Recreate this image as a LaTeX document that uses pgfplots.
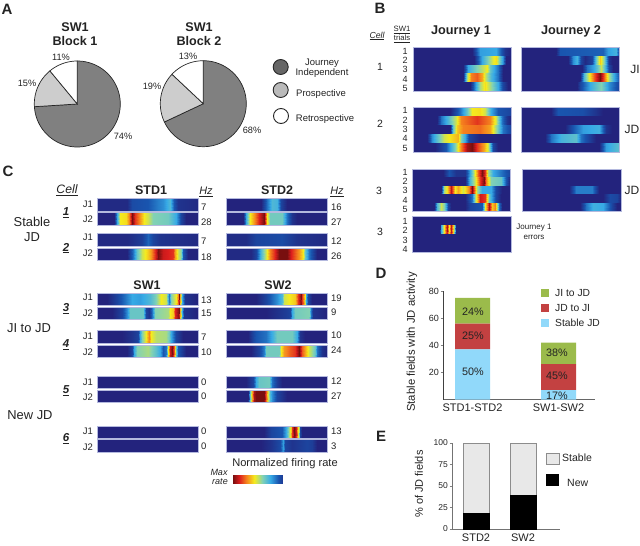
\documentclass[border=0pt]{standalone}
\usepackage{fontspec}
\setmainfont{Liberation Sans}
\usepackage{pgfplots}
\pgfplotsset{compat=1.18}

\definecolor{piedark}{RGB}{128,128,128}
\definecolor{pielight}{RGB}{205,205,205}
\definecolor{txt}{RGB}{35,35,35}
\definecolor{stripframe}{RGB}{180,185,222}
\definecolor{barblue}{RGB}{145,217,250}
\definecolor{barred}{RGB}{195,65,65}
\definecolor{bargreen}{RGB}{155,187,75}
\definecolor{stablegray}{RGB}{232,232,232}

\pgfplotsset{
  colormap={firing}{rgb255(0pt)=(35,35,125); rgb255(15pt)=(25,85,175); rgb255(30pt)=(55,170,230);
    rgb255(45pt)=(130,210,180); rgb255(60pt)=(245,235,30); rgb255(75pt)=(245,130,30);
    rgb255(88pt)=(220,30,30); rgb255(100pt)=(120,15,15)},
}

% one band of a heat strip: x0, x1, ytop, ybottom, position%/value list
\newcommand\band[5]{%
  \gdef\pts{}%
  \foreach \p/\v in {#5}{%
    \pgfmathsetmacro\xx{#1+(#2-#1)*\p/100}%
    \xdef\pts{\pts (\xx,#3) [\v] (\xx,#4) [\v]}%
  }%
  \edef\temp{\noexpand\addplot[surf,shader=interp,point meta=explicit,mesh/rows=2,mesh/ordering=y varies] coordinates {\pts};}%
  \temp
}
\newcommand\frm[4]{\draw[stripframe,line width=.6pt] (axis cs:#1,#3) rectangle (axis cs:#2,#4);}
\newcommand\strip[5]{\band{#1}{#2}{#3}{#4}{#5}\frm{#1}{#2}{#3}{#4}}

% pie slice from percent a to percent b, clockwise from the top
\newcommand\slice[3]{%
  \gdef\pts{(0,0)}%
  \foreach \p in {#1,...,#2}{%
    \pgfmathsetmacro\ang{90-3.6*\p}%
    \xdef\pts{\pts (\ang,1)}%
  }%
  \edef\temp{\noexpand\addplot[data cs=polar,fill=#3,draw=black!85,line width=.7pt] coordinates {\pts} -- cycle;}%
  \temp
}
\pgfplotsset{pie/.style={scale only axis,width=86pt,height=86pt,xmin=-1,xmax=1,ymin=-1,ymax=1,hide axis,clip=false,anchor=center}}

\newcommand\tx[4][center]{\node[anchor=#1,inner sep=0pt,text=txt,align=center,font=\fontsize{#3}{#3}\selectfont] at (#2) {#4};}
\newcommand\xy[2]{#1pt,-#2pt}

\begin{document}
\begin{tikzpicture}
\useasboundingbox (0,0) rectangle (640pt,-546pt);

% heat strips, in picture pixels
\begin{axis}[at={(0,0)},anchor=north west,scale only axis,width=640pt,height=546pt,
  xmin=0,xmax=640,ymin=0,ymax=546,y dir=reverse,hide axis,
  colormap name=firing,point meta min=0,point meta max=1]

% B, cell 1
\band{413}{511}{47}{55.8}{0/0,60/0,68/.28,85/.3,94/.05,100/0}
\band{413}{511}{55.8}{64.6}{0/0,62/0,70/.3,76/.42,82/.58,85/.62,88/.45,92/.25,95/0,100/0}
\band{413}{511}{64.6}{73.4}{0/0,51/0,56/.3,65/.45,72/.55,75/.6,79/.4,87/.2,92/0,100/0}
\band{413}{511}{73.4}{82.2}{0/0,51/0,55/.5,59/.75,65/.8,70/.7,73/.55,80/.35,87/.2,92/0,100/0}
\band{413}{511}{82.2}{91}{0/0,58/0,62/.2,68/.5,73/.62,79/.5,87/.3,92/.1,97/0,100/0}
\frm{413}{511}{47}{91}
\band{521}{619}{47}{55.8}{0/0,36/0,40/.15,84/.17,89/.28,97/.33,100/.1}
\band{521}{619}{55.8}{64.6}{0/0,48/0,53/.25,57/.33,61/.1,65/.02,72/.1,77/.4,81/.65,85/.45,90/.05,93/0,100/0}
\band{521}{619}{64.6}{73.4}{0/0,62/0,67/.2,74/.3,79/.42,82/.55,85/.4,90/.1,94/0,100/0}
\band{521}{619}{73.4}{82.2}{0/0,60/0,64/.35,69/.58,74/.8,81/1,85/.8,90/.5,95/.3,100/.15}
\band{521}{619}{82.2}{91}{0/0,57/0,60/.1,70/.3,82/.45,90/.25,100/.1}
\frm{521}{619}{47}{91}

% B, cell 2
\band{413}{511}{107}{116}{0/0,38/0,48/.2,55/.4,60/.6,68/.62,73/.55,80/.3,87/.15,100/.1}
\band{413}{511}{116}{125}{0/0,24/0,29/.2,36/.35,44/.55,49/.75,65/.85,79/.75,85/.55,91/.2,96/.05,100/0}
\band{413}{511}{125}{134}{0/0,38/0,41/.4,45/.65,51/.75,68/.78,79/.7,86/.45,92/.2,100/.1}
\band{413}{511}{134}{143}{0/0,14/0,19/.25,26/.4,32/.55,39/.62,46/.68,49/.45,53/.3,57/.1,68/0,100/0}
\band{413}{511}{143}{152}{0/0,22/0,34/.15,43/.45,49/.75,55/.95,60/1,65/.85,72/.7,77/.55,82/.1,87/0,100/0}
\frm{413}{511}{107}{152}
\band{521}{619}{107}{116}{0/0,31/0,38/.15,63/.13,77/.05,84/0,100/0}
\band{521}{619}{116}{125}{0/0,100/0}
\band{521}{619}{125}{134}{0/0,45/0,53/.15,63/.28,80/.32,87/.05,93/0,100/0}
\band{521}{619}{134}{143}{0/0,24/0,31/.2,41/.33,56/.38,61/.2,70/.08,77/0,100/0}
\band{521}{619}{143}{152}{0/0,80/0,87/.28,100/.38}
\frm{521}{619}{107}{152}

% B, cell 3
\band{412}{510}{169}{177.4}{0/0,32/0,38/.15,45/.05,54/.05,59/.3,64/.6,67/.8,71/1,74/.85,78/.5,83/.3,93/.18,100/.1}
\band{412}{510}{177.4}{185.8}{0/0,54/0,59/.35,64/.55,69/.85,73/1,76/.75,81/.45,91/.4,96/.15,100/0}
\band{412}{510}{185.8}{194.2}{0/0,30/0,33/.5,36/.62,40/.92,44/.6,47/.7,52/.55,58/.75,61/1,66/.5,71/.3,81/.3,86/.1,92/0,100/0}
\band{412}{510}{194.2}{202.6}{0/0,54/0,61/.2,64/.5,69/.9,74/.85,79/.4,86/.1,91/0,100/0}
\band{412}{510}{202.6}{211}{0/0,22/0,25/.35,30/.55,33/.45,37/.1,40/0,54/0,59/.1,71/.15,74/.6,79/.95,82/.65,85/.75,89/.2,92/0,100/0}
\frm{412}{510}{169}{211}
\band{522}{621}{169}{185.8}{0/0,100/0}
\band{522}{621}{185.8}{194.2}{0/0,47/0,55/.22,71/.22,78/0,100/0}
\band{522}{621}{194.2}{202.6}{0/0,82/0,89/.12,96/.1,100/0}
\band{522}{621}{202.6}{211}{0/0,59/0,65/.2,72/.32,82/.3,91/.1,96/0,100/0}
\frm{522}{621}{169}{211}

% B, errors
\band{412}{511}{216}{225}{0/0,100/0}
\band{412}{511}{225}{234}{0/0,28/0,29.5/.3,32/.6,35/.95,37/.6,39.5/.92,42/.5,44.5/0,100/0}
\band{412}{511}{234}{252}{0/0,100/0}
\frm{412}{511}{216}{252}

% C, STD1 and STD2
\strip{97}{198}{198}{211}{0/.02,30/.02,35/.12,50/.15,60/.22,65/.25,72/.35,76/.15,80/.05,100/.02}
\strip{97}{198}{212.5}{225}{0/0,17/0,20/.3,23/.6,29/.62,32/.75,35/1,38/.85,42/.75,47/.6,50/.55,55/.45,70/.42,78/.3,83/.1,88/0,100/0}
\strip{226}{327}{198}{211}{0/0,35/0,41/.2,46/.35,50/.33,54/.1,60/0,100/0}
\strip{226}{327}{212.5}{225}{0/0,17/0,20/.3,24/.6,28/.72,33/.88,38/1,41/.6,44/.42,55/.42,60/.2,65/.05,70/0,100/0}
\strip{97}{198}{233}{246}{0/.02,30/.02,45/.08,50/.18,55/.1,62/.05,100/.02}
\strip{97}{198}{248}{260}{0/0,30/0,33/.1,36/.2,40/.4,45/.55,50/.65,53/.72,58/.9,60/1,65/.9,70/.88,75/.85,77/.7,80/.55,83/.45,85/.15,90/0,100/0}
\strip{226}{327}{233}{246}{0/.03,20/.03,30/.1,55/.12,70/.05,100/.02}
\strip{226}{327}{248}{260}{0/.02,25/.02,30/.1,35/.35,40/.55,44/.75,48/.85,52/1,60/1,64/.88,72/.72,76/.6,78/.4,82/.2,90/0,100/0}

% C, SW1 and SW2
\strip{97}{198}{293}{305}{0/0,10/0,20/.1,28/.2,35/.3,43/.28,52/.35,58/.45,63/.6,68/.55,71/.2,73/.45,78/.6,80/.75,81/1,82/.7,84/.3,87/.05,100/0}
\strip{97}{198}{307}{319}{0/0,15/0,25/.1,30/.25,33/.4,46/.4,49/.1,51/.05,54/.2,57/.45,70/.5,72/.6,75/.65,77/.88,81/1,82/.7,84/.3,86/.05,100/0}
\strip{226}{327}{293}{305}{0/0,30/0,40/.1,50/.25,55/.35,57/.55,62/.6,68/.65,71/.85,74/1,75/.85,78/.6,79/.3,81/.1,85/0,100/0}
\strip{226}{327}{307}{319}{0/0,40/0,60/.08,63/.1,65/.3,68/.42,82/.45,84/.2,86/.05,100/0}
\strip{97}{198}{330}{343}{0/0,25/0,35/.05,41/.1,43/.3,45/.45,49/.6,51/.75,53/.6,58/.52,68/.5,71/.42,73/.3,78/.1,85/0,100/0}
\strip{97}{198}{345}{357}{0/0,30/0,35/.1,37/.3,40/.45,50/.5,58/.38,62/.3,65/.15,68/.2,70/.6,72/.9,74/1,76/.8,78/.4,80/.15,88/0,100/0}
\strip{226}{327}{330}{343}{0/0,22/0,27/.1,30/.15,40/.2,47/.33,50/.42,65/.42,70/.3,73/.05,78/0,100/0}
\strip{226}{327}{345}{357}{0/0,25/0,33/.1,38/.22,40/.42,52/.42,54/.6,57/.72,63/.8,68/.85,72/1,75/.8,78/.7,82/.55,88/.4,90/.2,95/.05,100/0}
\strip{97}{198}{376}{388}{0/0,100/0}
\strip{97}{198}{390}{402}{0/0,100/0}
\strip{226}{327}{376}{388}{0/0,20/0,27/.1,30/.3,33/.4,43/.42,46/.2,50/.08,55/0,100/0}
\strip{226}{327}{390}{402}{0/0,22/0,24/.4,26/.7,28/.95,30/1,38/1,40/.8,42/.55,44/.35,46/.25,50/.1,55/.05,60/0,100/0}
\strip{97}{198}{426}{438}{0/0,100/0}
\strip{97}{198}{439.5}{452}{0/0,100/0}
\strip{226}{327}{426}{438}{0/0,38/0,45/.1,55/.15,59/.3,62/.5,64/.65,65/.85,67/1,69/.9,71/.6,72/.5,73/.1,75/0,100/0}
\strip{226}{327}{439.5}{452}{0/0,35/0,45/.05,53/.12,56/.28,58/.1,65/.05,80/.1,85/.08,90/0,100/0}

% colour key
\band{233}{282}{475}{483}{0/1,100/.08}
\end{axis}

% A, pies
\begin{axis}[pie,at={(\xy{77.3}{104})}]
\slice{0}{74}{piedark}
\slice{74}{89}{pielight}
\slice{89}{100}{white}
\end{axis}
\begin{axis}[pie,at={(\xy{203.3}{103.7})}]
\slice{0}{68}{piedark}
\slice{68}{87}{pielight}
\slice{87}{100}{white}
\end{axis}

% D
\begin{axis}[at={(\xy{443}{399.5})},anchor=south west,scale only axis,width=152pt,height=108.5pt,
  axis lines=left,axis line style={-,draw=black!75,line width=.8pt},
  x axis line style={draw=black!60,line width=1pt},
  xmin=-.343,xmax=1.424,ymin=0,ymax=80,
  ybar stacked,bar width=35pt,
  xtick={0,1},xticklabels={STD1-STD2,SW1-SW2},major x tick style={draw=none},
  ytick={20,40,60,80},tick align=outside,major tick length=2.5pt,
  /pgf/number format/assume math mode=true,
  yticklabel style={font=\fontsize{9}{9}\selectfont,text=txt,inner sep=1.5pt},
  xticklabel style={font=\fontsize{11}{11}\selectfont,text=txt,inner sep=2pt},
  ylabel={Stable fields with JD activity},
  y label style={at={(axis description cs:-.204,.53)},anchor=center,font=\fontsize{11.3}{11.3}\selectfont,text=txt}]
\addplot[fill=barblue,draw=none] coordinates {(0,37) (1,7)};
\addplot[fill=barred,draw=none] coordinates {(0,19) (1,19)};
\addplot[fill=bargreen,draw=none] coordinates {(0,19) (1,16)};
\end{axis}

% E
\begin{axis}[at={(\xy{452}{529})},anchor=south west,scale only axis,width=108pt,height=86pt,
  axis lines=left,axis line style={-,draw=black!55,line width=.8pt},
  xmin=-.511,xmax=1.787,ymin=0,ymax=100,
  ybar stacked,bar width=26pt,
  xtick={0,1},xticklabels={STD2,SW2},major x tick style={draw=none},
  ytick={0,25,50,75,100},tick align=outside,major tick length=2.5pt,
  /pgf/number format/assume math mode=true,
  yticklabel style={font=\fontsize{8.5}{8.5}\selectfont,text=txt,inner sep=1.5pt},
  xticklabel style={font=\fontsize{11}{11}\selectfont,text=txt,inner sep=2pt},
  ylabel={\% of JD fields},
  y label style={at={(axis description cs:-.306,.523)},anchor=center,font=\fontsize{11}{11}\selectfont,text=txt}]
\addplot[fill=black,draw=black] coordinates {(0,18) (1,39)};
\addplot[fill=stablegray,draw=black!45] coordinates {(0,82) (1,61)};
\end{axis}

% panel letters
\tx{\xy{7}{9}}{15}{\bfseries A}
\tx{\xy{380}{8}}{15}{\bfseries B}
\tx{\xy{8}{171}}{15}{\bfseries C}
\tx{\xy{381}{273}}{15}{\bfseries D}
\tx{\xy{381}{436}}{15}{\bfseries E}

% A texts
\tx{\xy{75}{27}}{12.6}{\bfseries SW1}
\tx{\xy{75}{41}}{12.6}{\bfseries Block 1}
\tx{\xy{199}{27}}{12.6}{\bfseries SW1}
\tx{\xy{199}{41}}{12.6}{\bfseries Block 2}
\tx{\xy{61}{57}}{9.2}{11\%}
\tx{\xy{27}{83}}{9.2}{15\%}
\tx{\xy{123}{136}}{9.2}{74\%}
\tx{\xy{188}{56}}{9.2}{13\%}
\tx{\xy{152}{86}}{9.2}{19\%}
\tx{\xy{252}{130}}{9.2}{68\%}
\draw[black!85,line width=.9pt,fill=black!60] (\xy{280.7}{67}) circle (7.5pt);
\draw[black!85,line width=.9pt,fill=black!27] (\xy{280.7}{90}) circle (7.5pt);
\draw[black!85,line width=.9pt,fill=white] (\xy{281}{116}) circle (7.5pt);
\tx{\xy{322}{63}}{9.5}{Journey}
\tx{\xy{322}{73}}{9.5}{Independent}
\tx{\xy{321}{94}}{9.5}{Prospective}
\tx{\xy{325}{119}}{9.5}{Retrospective}

% B texts
\tx{\xy{377}{36}}{8.7}{\itshape\underline{Cell}}
\tx{\xy{402}{30}}{7.7}{\underline{SW1}}
\tx{\xy{402}{39}}{7.7}{\underline{trials}}
\tx{\xy{461}{31}}{12.7}{\bfseries Journey 1}
\tx{\xy{571}{31}}{12.7}{\bfseries Journey 2}
\foreach \yy/\n in {51/1,60/2,69/3,79/4,88/5,110/1,120/2,129/3,138/4,148/5,172/1,181/2,190/3,200/4,209/5,221/1,230/2,240/3,249/4}
  {\tx{\xy{405}{\yy}}{9}{\n}}
\tx{\xy{380}{67}}{10.5}{1}
\tx{\xy{380}{124}}{10.5}{2}
\tx{\xy{379}{191}}{10.5}{3}
\tx{\xy{380}{232}}{10.5}{3}
\tx{\xy{635}{69}}{12}{JI}
\tx{\xy{632}{129}}{12}{JD}
\tx{\xy{632}{190}}{12}{JD}
\tx{\xy{534}{228}}{8}{Journey 1}
\tx{\xy{534}{237}}{8}{errors}

% C texts
\tx{\xy{67}{190}}{12.2}{\itshape\underline{Cell}}
\tx{\xy{151}{190}}{12.5}{\bfseries STD1}
\tx{\xy{277}{190}}{12.5}{\bfseries STD2}
\tx{\xy{206}{192}}{10.9}{\itshape\underline{Hz}}
\tx{\xy{337}{192}}{10.9}{\itshape\underline{Hz}}
\tx{\xy{147}{285}}{12.5}{\bfseries SW1}
\tx{\xy{278}{285}}{12.5}{\bfseries SW2}
\tx{\xy{32}{222}}{12.9}{Stable}
\tx{\xy{32}{237}}{12.9}{JD}
\tx{\xy{29}{328}}{12.9}{JI to JD}
\tx{\xy{30}{415}}{12.9}{New JD}
\foreach \yy/\n in {213/1,248/2,309/3,345/4,391/5,439/6}
  {\tx{\xy{66}{\yy}}{11.5}{\bfseries\itshape\underline{\n}}}
\foreach \yy in {204,237,297,336,382,431} {\tx{\xy{88}{\yy}}{9.5}{J1}}
\foreach \yy in {219,253,313,352,397,447} {\tx{\xy{88}{\yy}}{9.5}{J2}}
\foreach \yy/\n in {207/7,222/28,241/7,257/18,300/13,313/15,337/7,352/10,382/0,396/0,431/0,446/0}
  {\tx[west]{\xy{201}{\yy}}{9.5}{\n}}
\foreach \yy/\n in {207/16,222/27,241/12,256/26,298/19,312/9,335/10,350/24,381.5/12,396/27,431/13,446/3}
  {\tx[west]{\xy{331}{\yy}}{9.5}{\n}}
\tx{\xy{285}{464}}{11.1}{Normalized firing rate}
\tx{\xy{219}{472}}{9}{\itshape Max}
\tx{\xy{220}{482}}{9}{\itshape rate}

% D texts
\tx{\xy{473}{312}}{10.8}{24\%}
\tx{\xy{473}{336}}{10.8}{25\%}
\tx{\xy{473}{372}}{10.8}{50\%}
\tx{\xy{557}{353}}{10.8}{38\%}
\tx{\xy{557}{376}}{10.8}{45\%}
\tx{\xy{557}{396}}{10.8}{17\%}
\fill[bargreen] (\xy{541}{289}) rectangle (\xy{549}{297});
\fill[barred] (\xy{541}{304}) rectangle (\xy{549}{312});
\fill[barblue] (\xy{541}{319}) rectangle (\xy{549}{327});
\tx[west]{\xy{555}{293}}{10.3}{JI to JD}
\tx[west]{\xy{555}{308}}{10.3}{JD to JI}
\tx[west]{\xy{555}{323}}{10.3}{Stable JD}

% E legend
\draw[fill=stablegray,draw=black!45] (\xy{546}{453}) rectangle (\xy{559}{464});
\fill[black] (\xy{546}{474}) rectangle (\xy{559}{486});
\tx[west]{\xy{562}{458}}{10.5}{Stable}
\tx[west]{\xy{567}{483}}{10.5}{New}
\end{tikzpicture}
\end{document}
